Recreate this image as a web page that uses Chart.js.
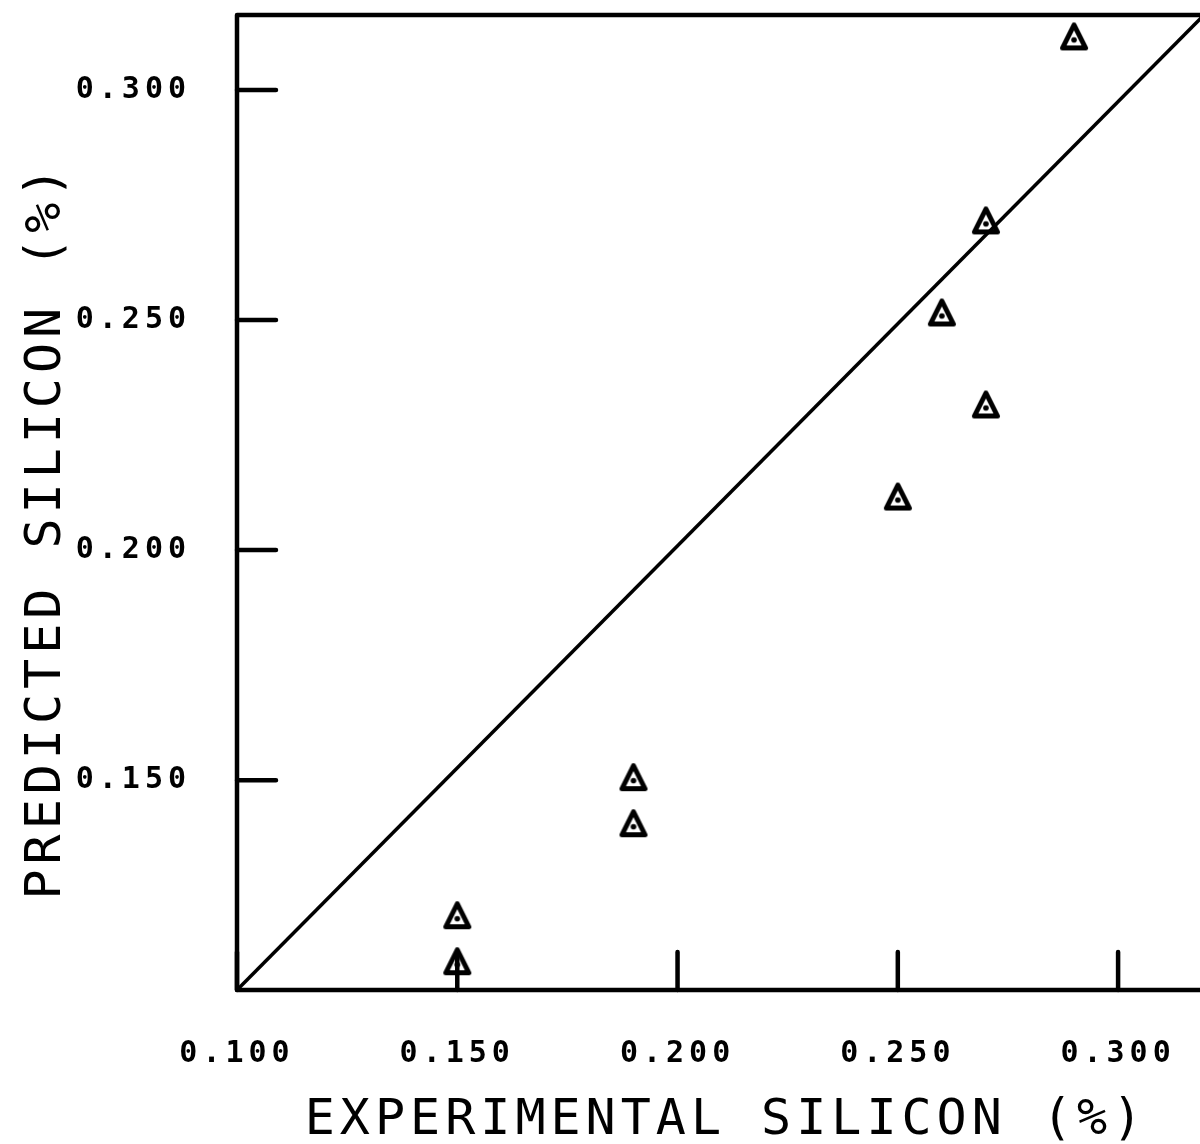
<!DOCTYPE html>
<html>
<head>
<meta charset="utf-8">
<script src="https://cdn.jsdelivr.net/npm/chart.js@4/dist/chart.umd.min.js"></script>
<style>
  html, body { margin: 0; padding: 0; background: #fff; overflow: hidden; }
  #wrap { width: 1206px; height: 1144px; }
</style>
</head>
<body>
<div id="wrap"><canvas id="c" width="1206" height="1144"></canvas></div>
<script>
// Measured vs. predicted silicon content (%)
const expSilicon  = [0.15, 0.15, 0.19, 0.19, 0.25, 0.26, 0.27, 0.27, 0.29];
const predSilicon = [0.110, 0.120, 0.140, 0.150, 0.211, 0.251, 0.231, 0.271, 0.311];

// Axis ticks
const xTickValues = [0.100, 0.150, 0.200, 0.250, 0.300];
const yTickValues = [0.150, 0.200, 0.250, 0.300];

// Axis ranges
const X_MIN = 0.100, X_MAX = 0.3195;
const Y_MIN = 0.1044, Y_MAX = 0.3163;

// Diagonal reference line, corner to corner of the plot
const diagX = [X_MIN, X_MAX];
const diagY = [Y_MIN, Y_MAX];

const X_TITLE = 'EXPERIMENTAL SILICON (%)';
const Y_TITLE = 'PREDICTED SILICON (%)';

// Open triangle with a centre dot, as a point image
function triangleMarker() {
  const c = document.createElement('canvas');
  c.width = 44; c.height = 44;
  const g = c.getContext('2d');
  g.strokeStyle = '#000';
  g.lineWidth = 5;
  g.lineJoin = 'round';
  g.beginPath();
  g.moveTo(22, 7.5);
  g.lineTo(33.5, 30.5);
  g.lineTo(10.5, 30.5);
  g.closePath();
  g.stroke();
  g.beginPath();
  g.arc(22, 22.5, 2.8, 0, Math.PI * 2);
  g.fillStyle = '#000';
  g.fill();
  return c;
}

// Frame, inward tick marks and axis titles
const framePlugin = {
  id: 'frame',
  beforeDraw(chart) {
    chart.ctx.letterSpacing = '5px';
  },
  beforeDatasetsDraw(chart) {
    const { ctx, chartArea: a, scales: { x, y } } = chart;
    ctx.save();
    ctx.strokeStyle = '#000';
    ctx.lineWidth = 4.5;
    ctx.lineCap = 'round';
    ctx.lineJoin = 'round';
    ctx.strokeRect(a.left, a.top, a.right - a.left, a.bottom - a.top);
    ctx.beginPath();
    y.ticks.forEach(t => {
      const py = y.getPixelForValue(t.value);
      ctx.moveTo(a.left, py);
      ctx.lineTo(a.left + 39, py);
    });
    x.ticks.forEach(t => {
      const px = x.getPixelForValue(t.value);
      ctx.moveTo(px, a.bottom);
      ctx.lineTo(px, a.bottom - 38);
    });
    ctx.stroke();
    ctx.restore();
  },
  afterDraw(chart) {
    const ctx = chart.ctx;
    ctx.save();
    ctx.letterSpacing = '5px';
    ctx.font = '50px "DejaVu Sans Mono"';
    ctx.fillStyle = '#000';
    ctx.textAlign = 'center';
    ctx.textBaseline = 'middle';
    ctx.fillText(X_TITLE, 726, 1121);
    ctx.translate(47, 531);
    ctx.rotate(-Math.PI / 2);
    ctx.fillText(Y_TITLE, 0, 0);
    ctx.restore();
  }
};

const tickFont = { family: '"DejaVu Sans Mono"', size: 30, weight: 'bold' };

new Chart(document.getElementById('c'), {
  type: 'scatter',
  data: {
    datasets: [
      {
        data: diagX.map((v, i) => ({ x: v, y: diagY[i] })),
        showLine: true,
        borderColor: '#000',
        borderWidth: 3.5,
        pointRadius: 0,
        pointHoverRadius: 0,
        clip: false
      },
      {
        data: expSilicon.map((v, i) => ({ x: v, y: predSilicon[i] })),
        pointStyle: triangleMarker(),
        showLine: false,
        clip: false
      }
    ]
  },
  options: {
    responsive: false,
    animation: false,
    devicePixelRatio: 1,
    events: [],
    layout: { autoPadding: false, padding: { top: 15, right: 2, bottom: 0, left: 0 } },
    plugins: { legend: { display: false }, tooltip: { enabled: false } },
    scales: {
      x: {
        type: 'linear',
        min: X_MIN,
        max: X_MAX,
        grid: { display: false, drawTicks: false },
        border: { display: false },
        afterBuildTicks: s => { s.ticks = xTickValues.map(v => ({ value: v })); },
        afterFit: s => {
          s.height = 154;
          s.paddingLeft = 0; s.paddingRight = 0; s.paddingTop = 0; s.paddingBottom = 0;
        },
        ticks: {
          color: '#000',
          font: tickFont,
          padding: 46,
          maxRotation: 0,
          autoSkip: false,
          callback: v => v.toFixed(3)
        }
      },
      y: {
        type: 'linear',
        min: Y_MIN,
        max: Y_MAX,
        grid: { display: false, drawTicks: false },
        border: { display: false },
        afterBuildTicks: s => { s.ticks = yTickValues.map(v => ({ value: v })); },
        afterFit: s => {
          s.width = 237;
          s.paddingLeft = 0; s.paddingRight = 0; s.paddingTop = 0; s.paddingBottom = 0;
        },
        ticks: {
          color: '#000',
          font: tickFont,
          padding: 46,
          autoSkip: false,
          callback: v => v.toFixed(3)
        }
      }
    }
  },
  plugins: [framePlugin]
});
</script>
</body>
</html>
